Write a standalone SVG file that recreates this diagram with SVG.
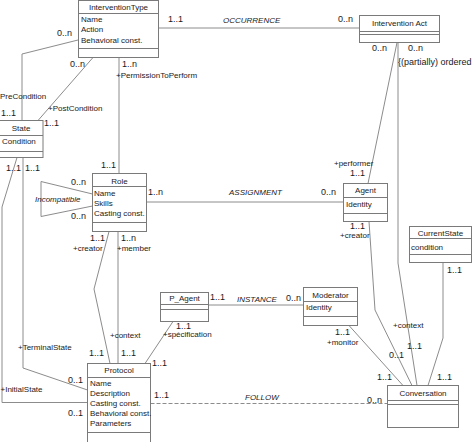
<svg xmlns="http://www.w3.org/2000/svg" width="474" height="442" viewBox="0 0 474 442">
<style>
.box{fill:#fff;stroke:#7a7a7a;stroke-width:1}
.sep{stroke:#7a7a7a;stroke-width:1}
.ln{fill:none;stroke:#8c8c8c;stroke-width:1}
.dash{fill:none;stroke:#8c8c8c;stroke-width:1;stroke-dasharray:4 2}
text{font-family:"Liberation Sans",Arial,sans-serif;fill:#1a1a1a}
.t{font-size:8px;text-anchor:middle}
.a{font-size:8px}
.m{font-size:9px}
.r{font-size:8px}
.i{font-size:8px;font-style:italic}
</style>
<rect width="474" height="442" fill="#fff"/>
<g id="connectors">
  <line class="ln" x1="158" y1="28" x2="359.5" y2="28"/>
  <polyline class="ln" points="78,40 22,54 22,120.5"/>
  <line class="ln" x1="93" y1="57.5" x2="38" y2="120.5"/>
  <line class="ln" x1="119" y1="57.5" x2="119" y2="173.5"/>
  <polyline class="ln" points="92.5,194 41,181.5 41,216.5 92.5,206"/>
  <line class="ln" x1="146.5" y1="202" x2="343.5" y2="202"/>
  <polyline class="ln" points="109,231.5 94,289 110,363.5"/>
  <line class="ln" x1="118" y1="231.5" x2="118" y2="363.5"/>
  <line class="ln" x1="173" y1="321.5" x2="145" y2="363.5"/>
  <line class="ln" x1="208.5" y1="305" x2="303.5" y2="305"/>
  <line class="ln" x1="349" y1="325.5" x2="403" y2="385.5"/>
  <line class="dash" x1="150.5" y1="403.5" x2="387.5" y2="403.5"/>
  <line class="ln" x1="397" y1="42.5" x2="368" y2="183.5"/>
  <polyline class="ln" points="398,42.5 398,263 417,385.5"/>
  <polyline class="ln" points="369,221.5 375,310 412,385.5"/>
  <polyline class="ln" points="443,262.5 443,338 428,385.5"/>
  <polyline class="ln" points="17,157.5 2,207 2,402.5 87.5,402.5"/>
  <polyline class="ln" points="23,157.5 23,368 87.5,390"/>
  <!-- labels -->
  <text class="m" x="168" y="22">1..1</text>
  <text class="i" x="223" y="23">OCCURRENCE</text>
  <text class="m" x="338" y="22">0..n</text>
  <text class="m" x="57" y="36">0..n</text>
  <text class="r" x="0" y="99">PreCondition</text>
  <text class="m" x="1" y="116">1..1</text>
  <text class="m" x="70" y="67">0..n</text>
  <text class="r" x="48" y="111">+PostCondition</text>
  <text class="m" x="44" y="126">1..1</text>
  <text class="m" x="122" y="67">1..n</text>
  <text class="r" x="116" y="78">+PermissionToPerform</text>
  <text class="m" x="101" y="168">1..1</text>
  <text class="m" x="71" y="185">0..n</text>
  <text class="i" x="35" y="202">Incompatible</text>
  <text class="m" x="71" y="219">0..n</text>
  <text class="m" x="148" y="195">1..n</text>
  <text class="i" x="229" y="195">ASSIGNMENT</text>
  <text class="m" x="321" y="195">0..n</text>
  <text class="m" x="90" y="241">1..1</text>
  <text class="r" x="73" y="251">+creator</text>
  <text class="m" x="121" y="241">1..n</text>
  <text class="r" x="117" y="251">+member</text>
  <text class="r" x="110" y="338">+context</text>
  <text class="m" x="89" y="356">1..1</text>
  <text class="m" x="121" y="356">1..1</text>
  <text class="m" x="176" y="329">1..1</text>
  <text class="r" x="163" y="337">+spécification</text>
  <text class="m" x="152" y="366">1..1</text>
  <text class="m" x="210" y="300">1..1</text>
  <text class="i" x="237" y="302">INSTANCE</text>
  <text class="m" x="286" y="301">0..n</text>
  <text class="m" x="335" y="335">1..1</text>
  <text class="r" x="327" y="345">+monitor</text>
  <text class="m" x="377" y="380">1..1</text>
  <text class="m" x="154" y="398">1..1</text>
  <text class="i" x="245" y="400">FOLLOW</text>
  <text class="m" x="367" y="403">0..n</text>
  <text class="m" x="372" y="51">0..n</text>
  <text class="m" x="408" y="51">0..n</text>
  <text class="m" x="398" y="65">{(partially) ordered</text>
  <text class="r" x="334" y="166">+performer</text>
  <text class="m" x="350" y="176">1..1</text>
  <text class="m" x="350" y="229">1..1</text>
  <text class="r" x="340" y="238">+creator</text>
  <text class="r" x="393" y="328">+context</text>
  <text class="m" x="407" y="349">1..1</text>
  <text class="m" x="389" y="358">0..1</text>
  <text class="m" x="447" y="273">1..1</text>
  <text class="m" x="437" y="380">1..1</text>
  <text class="m" x="6" y="171">1..1</text>
  <text class="m" x="25" y="171">1..1</text>
  <text class="r" x="0.5" y="392">+InitialState</text>
  <text class="m" x="68" y="416">0..1</text>
  <text class="r" x="18" y="350">+TerminalState</text>
  <text class="m" x="68" y="383">0..1</text>
</g>
<g id="InterventionType">
  <rect class="box" x="78.5" y="0.5" width="80" height="57"/>
  <line class="sep" x1="78.5" y1="13.5" x2="158.5" y2="13.5"/>
  <line class="sep" x1="78.5" y1="48.5" x2="158.5" y2="48.5"/>
  <text class="t" x="118.5" y="10">InterventionType</text>
  <text class="a" x="81" y="22">Name</text>
  <text class="a" x="81" y="32">Action</text>
  <text class="a" x="81" y="43">Behavioral const.</text>
</g>
<g id="InterventionAct">
  <rect class="box" x="359.5" y="15.5" width="80" height="27"/>
  <line class="sep" x1="359.5" y1="31.5" x2="439.5" y2="31.5"/>
  <line class="sep" x1="359.5" y1="34.5" x2="439.5" y2="34.5"/>
  <text class="t" x="399.5" y="26">Intervention Act</text>
</g>
<g id="State">
  <rect class="box" x="-1" y="120.5" width="44" height="37"/>
  <line class="sep" x1="-1" y1="135.5" x2="43" y2="135.5"/>
  <line class="sep" x1="-1" y1="151.5" x2="43" y2="151.5"/>
  <text class="t" x="21" y="131">State</text>
  <text class="a" x="2" y="144">Condition</text>
</g>
<g id="Role">
  <rect class="box" x="92.5" y="173.5" width="54" height="58"/>
  <line class="sep" x1="92.5" y1="186.5" x2="146.5" y2="186.5"/>
  <line class="sep" x1="92.5" y1="222.5" x2="146.5" y2="222.5"/>
  <text class="t" x="119.5" y="184">Role</text>
  <text class="a" x="94" y="196">Name</text>
  <text class="a" x="94" y="206">Skills</text>
  <text class="a" x="94" y="216">Casting const.</text>
</g>
<g id="Agent">
  <rect class="box" x="343.5" y="183.5" width="44" height="38"/>
  <line class="sep" x1="343.5" y1="197.5" x2="387.5" y2="197.5"/>
  <line class="sep" x1="343.5" y1="213.5" x2="387.5" y2="213.5"/>
  <text class="t" x="365.5" y="193">Agent</text>
  <text class="a" x="346" y="207">Identity</text>
</g>
<g id="CurrentState">
  <rect class="box" x="409.5" y="226.5" width="62" height="36"/>
  <line class="sep" x1="409.5" y1="238.5" x2="471.5" y2="238.5"/>
  <line class="sep" x1="409.5" y1="254.5" x2="471.5" y2="254.5"/>
  <text class="t" x="440.5" y="236">CurrentState</text>
  <text class="a" x="411" y="250">condition</text>
</g>
<g id="P_Agent">
  <rect class="box" x="160.5" y="292.5" width="48" height="29"/>
  <line class="sep" x1="160.5" y1="304.5" x2="208.5" y2="304.5"/>
  <line class="sep" x1="160.5" y1="309.5" x2="208.5" y2="309.5"/>
  <text class="t" x="184.5" y="301">P_Agent</text>
</g>
<g id="Moderator">
  <rect class="box" x="303.5" y="287.5" width="54" height="38"/>
  <line class="sep" x1="303.5" y1="301.5" x2="357.5" y2="301.5"/>
  <line class="sep" x1="303.5" y1="316.5" x2="357.5" y2="316.5"/>
  <text class="t" x="330.5" y="298">Moderator</text>
  <text class="a" x="306" y="310">Identity</text>
</g>
<g id="Conversation">
  <rect class="box" x="387.5" y="385.5" width="71" height="42"/>
  <line class="sep" x1="387.5" y1="400.5" x2="458.5" y2="400.5"/>
  <line class="sep" x1="387.5" y1="404.5" x2="458.5" y2="404.5"/>
  <text class="t" x="423" y="396">Conversation</text>
</g>
<g id="Protocol">
  <rect class="box" x="87.5" y="363.5" width="63" height="90"/>
  <line class="sep" x1="87.5" y1="377.5" x2="150.5" y2="377.5"/>
  <line class="sep" x1="87.5" y1="432.5" x2="150.5" y2="432.5"/>
  <text class="t" x="119" y="373">Protocol</text>
  <text class="a" x="90" y="386">Name</text>
  <text class="a" x="90" y="396">Description</text>
  <text class="a" x="90" y="406">Casting const.</text>
  <text class="a" x="90" y="416">Behavioral const.</text>
  <text class="a" x="90" y="426">Parameters</text>
</g>
</svg>
